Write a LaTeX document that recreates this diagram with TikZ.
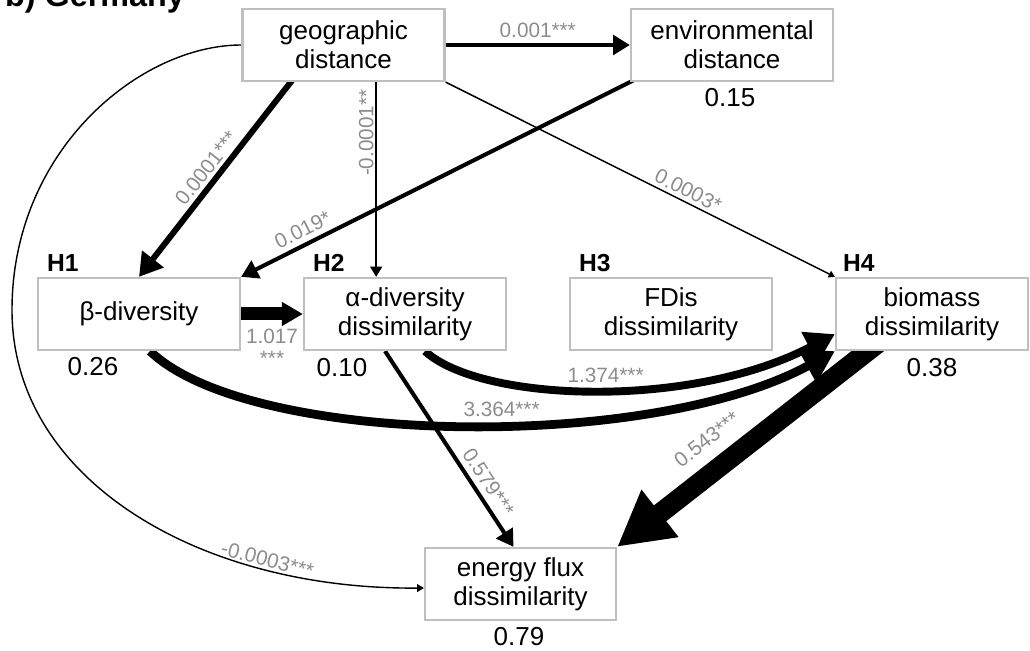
\documentclass[tikz,border=0pt]{standalone}
\usepackage{fontspec}
\setmainfont{Liberation Sans}
\usetikzlibrary{positioning,arrows.meta,backgrounds,calc}
\definecolor{boxgray}{HTML}{BFBFBF}
\definecolor{coefgray}{HTML}{8C8C8C}

\begin{document}
\begin{tikzpicture}[x=0.02cm, y=-0.02cm,
    var/.style={draw=boxgray, fill=white, line width=1.3pt, minimum width=4.04cm, minimum height=1.44cm,
        align=center, inner sep=0pt, font=\fontsize{14.8}{16.5}\selectfont},
    hyp/.style={anchor=base west, font=\fontsize{14}{16}\selectfont\bfseries},
    rsq/.style={font=\fontsize{14.8}{16.5}\selectfont},
    coef/.style={text=coefgray, inner sep=1pt, font=\fontsize{11.8}{12.5}\selectfont},
    link/.style={-{Triangle}, line width=#1},
]
    \useasboundingbox (0,0) rectangle (1030,651);

    \node[anchor=base west, font=\fontsize{18.4}{20}\selectfont\bfseries] (title) at (-1,7) {b) Germany};

    \node[var] (geo) at (343.5,45) {geographic\\distance};
    \node[var] (env) at (732,45) {environmental\\distance};
    \node[var] (beta) at (139,314) {β-diversity};
    \node[var] (alpha) at (405,314) {α-diversity\\dissimilarity};
    \node[var] (fdis) at (671,314) {FDis\\dissimilarity};
    \node[var, minimum width=3.84cm] (biom) at (932,314) {biomass\\dissimilarity};
    \node[var, minimum width=3.82cm] (flux) at (520.5,584) {energy flux\\dissimilarity};

    \node[hyp] (h1) at ($(beta.north west)+(4,-5)$) {H1};
    \node[hyp] (h2) at ($(alpha.north west)+(4,-5)$) {H2};
    \node[hyp] (h3) at ($(fdis.north west)+(4,-5)$) {H3};
    \node[hyp] (h4) at ($(biom.north west)+(2,-5)$) {H4};

    \node[rsq] (renv) at (730,98) {0.15};
    \node[rsq] (rbeta) at (93,367) {0.26};
    \node[rsq] (ralpha) at (342,368) {0.10};
    \node[rsq] (rbiom) at (932,368) {0.38};
    \node[rsq] (rflux) at (519,637) {0.79};

    \begin{scope}[on background layer]
        \draw[link=2.3pt] (geo) -- (env) node[midway, above=2pt, coef] {0.001***};
        \draw[link=3.4pt] ($(geo.south west)+(54,-6)$) -- (beta.north) node[pos=0.5, sloped, above=1pt, coef] {0.0001***};
        \draw[link=1.1pt] ($(geo.south west)!0.66!(geo.south east)$) coordinate (ga) -- (ga |- alpha.north)
            node[pos=0.26, rotate=90, anchor=south, coef] {-0.0001**};
        \draw[link=2.3pt] ($(env.south west)+(12,-6)$) -- (beta.north east) node[pos=0.83, sloped, above=2pt, coef] {0.019*};
        \draw[link=0.85pt, -{Triangle[scale=0.7]}] (geo.south east) -- (biom.north west)
            node[pos=0.61, sloped, above=1pt, coef] {0.0003*};

        \draw[link=7.4pt, -{Triangle[length=12pt, width=13pt]}] (beta) -- (alpha)
            node[midway, below=4pt, align=center, coef] {1.017\\***};
        \draw[link=5pt] ($(beta.south)+(11,0)$) .. controls (250,447) and (650,452) .. (biom.south west)
            node[pos=0.55, above=1pt, coef] {3.364***};
        \draw[link=4.5pt] ($(alpha.south)+(20,0)$) .. controls (480,402) and (690,410) .. ($(biom.south west)+(0,-17)$)
            node[pos=0.52, above=1pt, coef] {1.374***};

        \draw[link=2.3pt] ($(alpha.south)+(-20,0)$) -- ($(flux.north)+(-7,0)$) node[pos=0.71, sloped, above=2pt, coef] {0.579***};
        \draw[link=11.4pt, -{Triangle[length=31pt, width=32pt]}] ($(biom.south west)+(52,-15)$) -- (flux.north east)
            node[pos=0.6, sloped, above=6pt, coef] {0.543***};

        \draw[link=0.8pt, -{Triangle[scale=0.8]}] (geo.west) .. controls (140,45) and (12,150) .. (12,310)
            .. controls (12,480) and (200,590) .. ($(flux.west)+(0,4)$)
            node[pos=0.75, sloped, above=0pt, coef] {-0.0003***};
    \end{scope}
\end{tikzpicture}
\end{document}
